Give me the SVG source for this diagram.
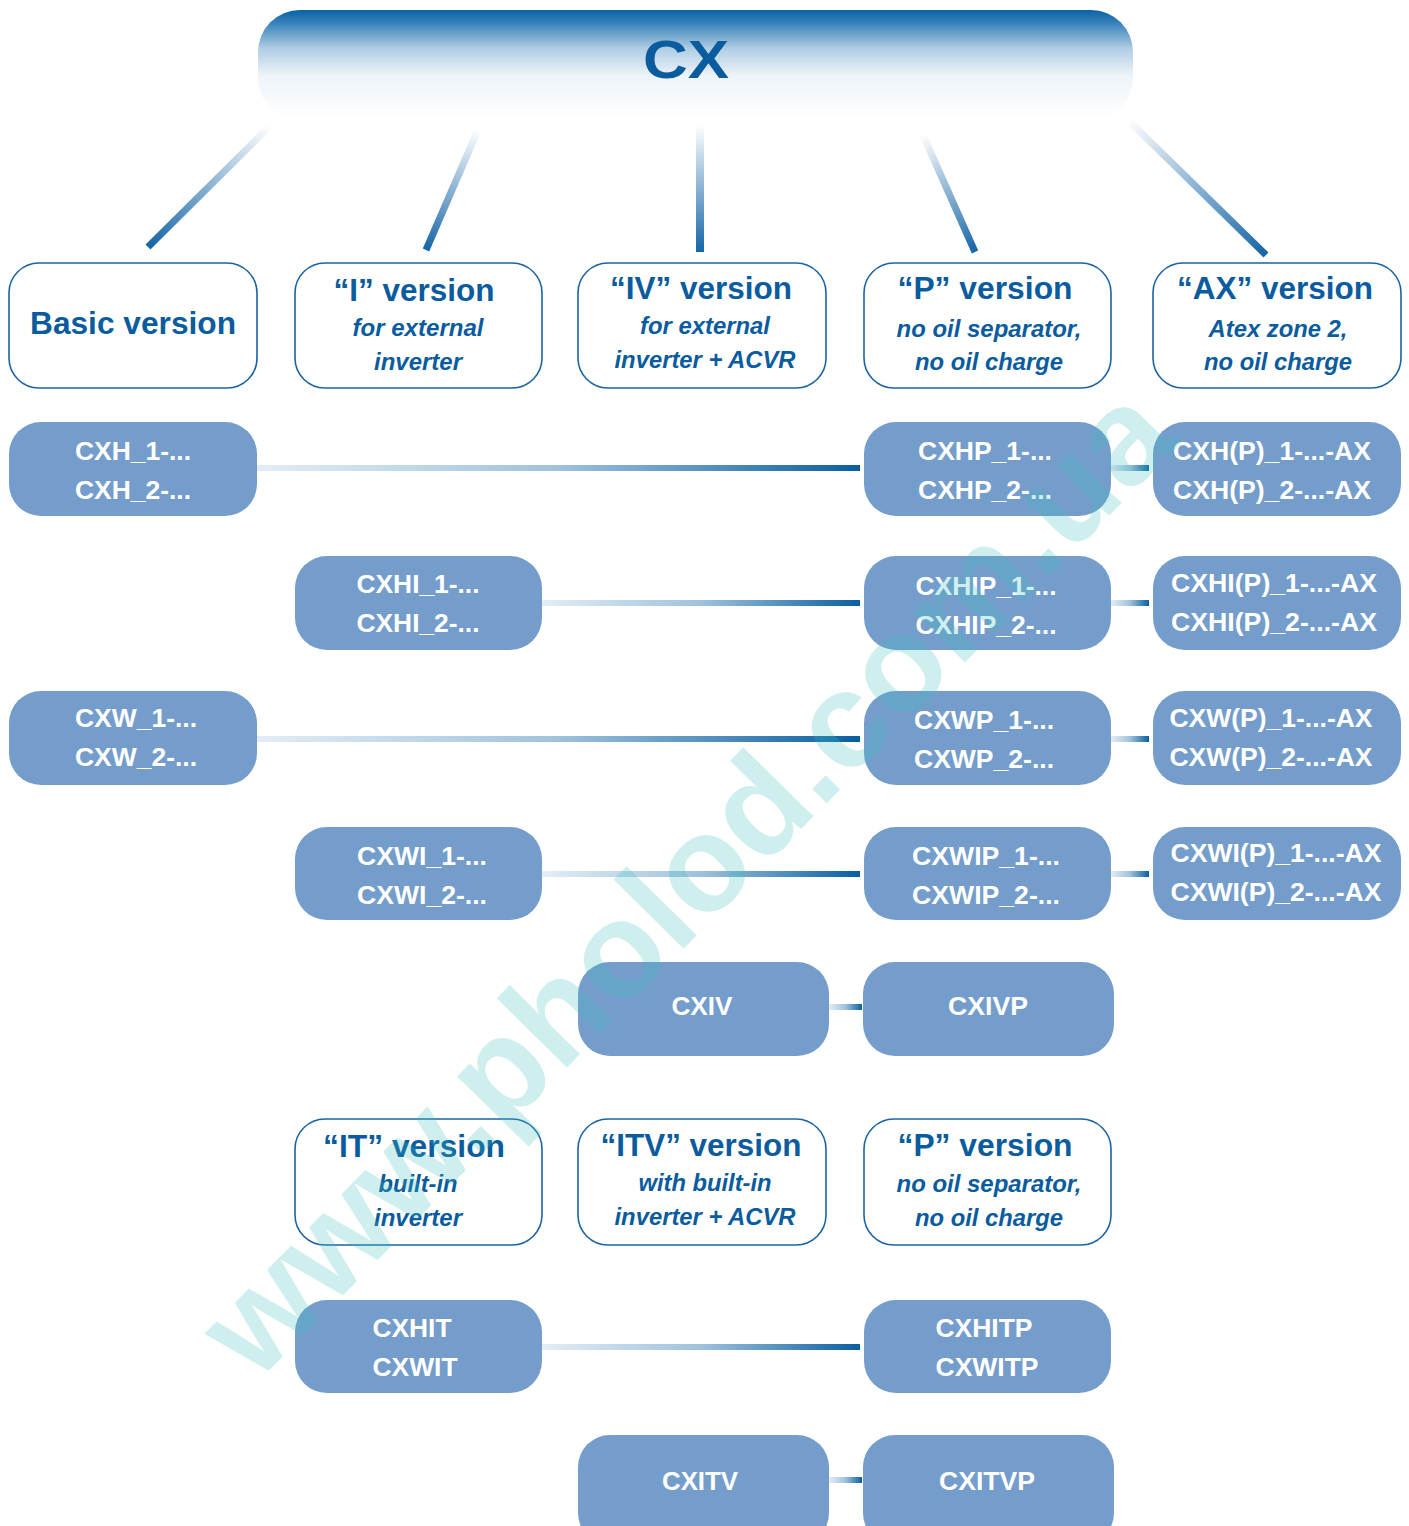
<svg xmlns="http://www.w3.org/2000/svg" width="1409" height="1526" viewBox="0 0 1409 1526">
<defs>
<linearGradient id="gBanner" x1="0" y1="0" x2="0" y2="1">
<stop offset="0" stop-color="#0a62a4"/>
<stop offset="0.1" stop-color="#2f7cb6"/>
<stop offset="0.35" stop-color="#b0cde3"/>
<stop offset="0.6" stop-color="#eef4fa"/>
<stop offset="1" stop-color="#ffffff"/>
</linearGradient>
<linearGradient id="gH" x1="0" y1="0" x2="1" y2="0">
<stop offset="0" stop-color="#e3edf6"/>
<stop offset="0.5" stop-color="#9fc2dc"/>
<stop offset="1" stop-color="#0a5fa0"/>
</linearGradient>
<linearGradient id="g1" gradientUnits="userSpaceOnUse" x1="270" y1="126" x2="148" y2="247"><stop offset="0" stop-color="#ffffff"/><stop offset="1" stop-color="#1565a6"/></linearGradient>
<linearGradient id="g2" gradientUnits="userSpaceOnUse" x1="478" y1="130" x2="426" y2="250"><stop offset="0" stop-color="#ffffff"/><stop offset="1" stop-color="#1565a6"/></linearGradient>
<linearGradient id="g3" gradientUnits="userSpaceOnUse" x1="700" y1="125" x2="700" y2="252"><stop offset="0" stop-color="#ffffff"/><stop offset="1" stop-color="#1565a6"/></linearGradient>
<linearGradient id="g4" gradientUnits="userSpaceOnUse" x1="923" y1="135" x2="975" y2="252"><stop offset="0" stop-color="#ffffff"/><stop offset="1" stop-color="#1565a6"/></linearGradient>
<linearGradient id="g5" gradientUnits="userSpaceOnUse" x1="1128" y1="120" x2="1266" y2="255"><stop offset="0" stop-color="#ffffff"/><stop offset="1" stop-color="#1565a6"/></linearGradient>
</defs>
<style>
.hdr{fill:#ffffff;stroke:#1a64a4;stroke-width:1.6}
.box{fill:#749dcb}
.t{font-family:"Liberation Sans",Arial,sans-serif;font-weight:bold;text-anchor:middle}
.ttl{fill:#0a5c9e;font-size:32px}
.sub{fill:#0a5c9e;font-size:23px;font-style:italic}
.bt{fill:#ffffff;font-size:26px}
.hc{fill:url(#gH)}
</style>
<rect width="1409" height="1526" fill="#ffffff"/>

<g id="root">
<rect x="258" y="10" width="875" height="110" rx="42" fill="url(#gBanner)"/>
<text class="t" x="686" y="78" fill="#0a5c9e" font-size="54" textLength="86" lengthAdjust="spacingAndGlyphs">CX</text>
</g>

<g id="connectors">
<line x1="270" y1="126" x2="148" y2="247" stroke="url(#g1)" stroke-width="7"/>
<line x1="478" y1="130" x2="426" y2="250" stroke="url(#g2)" stroke-width="7"/>
<line x1="700" y1="125" x2="700" y2="252" stroke="url(#g3)" stroke-width="8"/>
<line x1="923" y1="135" x2="975" y2="252" stroke="url(#g4)" stroke-width="7"/>
<line x1="1128" y1="120" x2="1266" y2="255" stroke="url(#g5)" stroke-width="7"/>
<rect class="hc" x="257" y="465" width="603" height="6"/>
<rect class="hc" x="1111" y="465" width="38" height="6"/>
<rect class="hc" x="542" y="600" width="318" height="6"/>
<rect class="hc" x="1111" y="600" width="38" height="6"/>
<rect class="hc" x="257" y="736" width="603" height="6"/>
<rect class="hc" x="1111" y="736" width="38" height="6"/>
<rect class="hc" x="542" y="871" width="318" height="6"/>
<rect class="hc" x="1111" y="871" width="38" height="6"/>
<rect class="hc" x="829" y="1004" width="33" height="6"/>
<rect class="hc" x="542" y="1344" width="318" height="6"/>
<rect class="hc" x="829" y="1477" width="33" height="6"/>
</g>

<g id="h-basic"><rect class="hdr" x="9" y="263" width="248" height="125" rx="30"/>
<text class="t ttl" x="133" y="334" textLength="206" lengthAdjust="spacingAndGlyphs">Basic version</text></g>
<g id="h-i"><rect class="hdr" x="295" y="263" width="247" height="125" rx="30"/>
<text class="t ttl" x="414" y="301" textLength="161" lengthAdjust="spacingAndGlyphs">“I” version</text>
<text class="t sub" x="418" y="336" textLength="131" lengthAdjust="spacingAndGlyphs">for external</text>
<text class="t sub" x="418" y="370" textLength="88" lengthAdjust="spacingAndGlyphs">inverter</text></g>
<g id="h-iv"><rect class="hdr" x="578" y="263" width="248" height="125" rx="30"/>
<text class="t ttl" x="701" y="299" textLength="182" lengthAdjust="spacingAndGlyphs">“IV” version</text>
<text class="t sub" x="705" y="334" textLength="130" lengthAdjust="spacingAndGlyphs">for external</text>
<text class="t sub" x="705" y="368" textLength="181" lengthAdjust="spacingAndGlyphs">inverter + ACVR</text></g>
<g id="h-p"><rect class="hdr" x="864" y="263" width="247" height="125" rx="30"/>
<text class="t ttl" x="985" y="299" textLength="175" lengthAdjust="spacingAndGlyphs">“P” version</text>
<text class="t sub" x="989" y="337" textLength="185" lengthAdjust="spacingAndGlyphs">no oil separator,</text>
<text class="t sub" x="989" y="370" textLength="148" lengthAdjust="spacingAndGlyphs">no oil charge</text></g>
<g id="h-ax"><rect class="hdr" x="1153" y="263" width="248" height="125" rx="30"/>
<text class="t ttl" x="1275" y="299" textLength="196" lengthAdjust="spacingAndGlyphs">“AX” version</text>
<text class="t sub" x="1278" y="337" textLength="139" lengthAdjust="spacingAndGlyphs">Atex zone 2,</text>
<text class="t sub" x="1278" y="370" textLength="148" lengthAdjust="spacingAndGlyphs">no oil charge</text></g>

<g id="n-cxh"><rect class="box" x="9" y="422" width="248" height="94" rx="32"/>
<text class="t bt" x="133" y="460" textLength="116" lengthAdjust="spacingAndGlyphs">CXH_1-...</text>
<text class="t bt" x="133" y="499" textLength="116" lengthAdjust="spacingAndGlyphs">CXH_2-...</text></g>
<g id="n-cxhp"><rect class="box" x="864" y="422" width="247" height="94" rx="32"/>
<text class="t bt" x="985" y="460" textLength="134" lengthAdjust="spacingAndGlyphs">CXHP_1-...</text>
<text class="t bt" x="985" y="499" textLength="134" lengthAdjust="spacingAndGlyphs">CXHP_2-...</text></g>
<g id="n-cxhax"><rect class="box" x="1153" y="422" width="248" height="94" rx="32"/>
<text class="t bt" x="1272" y="460" textLength="198" lengthAdjust="spacingAndGlyphs">CXH(P)_1-...-AX</text>
<text class="t bt" x="1272" y="499" textLength="198" lengthAdjust="spacingAndGlyphs">CXH(P)_2-...-AX</text></g>

<g id="n-cxhi"><rect class="box" x="295" y="556" width="247" height="94" rx="32"/>
<text class="t bt" x="418" y="593" textLength="123" lengthAdjust="spacingAndGlyphs">CXHI_1-...</text>
<text class="t bt" x="418" y="632" textLength="123" lengthAdjust="spacingAndGlyphs">CXHI_2-...</text></g>
<g id="n-cxhip"><rect class="box" x="864" y="556" width="247" height="94" rx="32"/>
<text class="t bt" x="986" y="595" textLength="141" lengthAdjust="spacingAndGlyphs">CXHIP_1-...</text>
<text class="t bt" x="986" y="634" textLength="141" lengthAdjust="spacingAndGlyphs">CXHIP_2-...</text></g>
<g id="n-cxhiax"><rect class="box" x="1153" y="556" width="248" height="94" rx="32"/>
<text class="t bt" x="1274" y="592" textLength="206" lengthAdjust="spacingAndGlyphs">CXHI(P)_1-...-AX</text>
<text class="t bt" x="1274" y="631" textLength="206" lengthAdjust="spacingAndGlyphs">CXHI(P)_2-...-AX</text></g>

<g id="n-cxw"><rect class="box" x="9" y="691" width="248" height="94" rx="32"/>
<text class="t bt" x="136" y="727" textLength="122" lengthAdjust="spacingAndGlyphs">CXW_1-...</text>
<text class="t bt" x="136" y="766" textLength="122" lengthAdjust="spacingAndGlyphs">CXW_2-...</text></g>
<g id="n-cxwp"><rect class="box" x="864" y="691" width="247" height="94" rx="32"/>
<text class="t bt" x="984" y="729" textLength="140" lengthAdjust="spacingAndGlyphs">CXWP_1-...</text>
<text class="t bt" x="984" y="768" textLength="140" lengthAdjust="spacingAndGlyphs">CXWP_2-...</text></g>
<g id="n-cxwax"><rect class="box" x="1153" y="691" width="248" height="94" rx="32"/>
<text class="t bt" x="1271" y="727" textLength="203" lengthAdjust="spacingAndGlyphs">CXW(P)_1-...-AX</text>
<text class="t bt" x="1271" y="766" textLength="203" lengthAdjust="spacingAndGlyphs">CXW(P)_2-...-AX</text></g>

<g id="n-cxwi"><rect class="box" x="295" y="827" width="247" height="93" rx="32"/>
<text class="t bt" x="422" y="865" textLength="130" lengthAdjust="spacingAndGlyphs">CXWI_1-...</text>
<text class="t bt" x="422" y="904" textLength="130" lengthAdjust="spacingAndGlyphs">CXWI_2-...</text></g>
<g id="n-cxwip"><rect class="box" x="864" y="827" width="247" height="93" rx="32"/>
<text class="t bt" x="986" y="865" textLength="148" lengthAdjust="spacingAndGlyphs">CXWIP_1-...</text>
<text class="t bt" x="986" y="904" textLength="148" lengthAdjust="spacingAndGlyphs">CXWIP_2-...</text></g>
<g id="n-cxwiax"><rect class="box" x="1153" y="827" width="248" height="93" rx="32"/>
<text class="t bt" x="1276" y="862" textLength="211" lengthAdjust="spacingAndGlyphs">CXWI(P)_1-...-AX</text>
<text class="t bt" x="1276" y="901" textLength="211" lengthAdjust="spacingAndGlyphs">CXWI(P)_2-...-AX</text></g>

<g id="n-cxiv"><rect class="box" x="578" y="962" width="251" height="94" rx="32"/>
<text class="t bt" x="702" y="1015" textLength="61" lengthAdjust="spacingAndGlyphs">CXIV</text></g>
<g id="n-cxivp"><rect class="box" x="863" y="962" width="251" height="94" rx="32"/>
<text class="t bt" x="988" y="1015" textLength="80" lengthAdjust="spacingAndGlyphs">CXIVP</text></g>

<g id="h-it"><rect class="hdr" x="295" y="1119" width="247" height="126" rx="30"/>
<text class="t ttl" x="414" y="1157" textLength="182" lengthAdjust="spacingAndGlyphs">“IT” version</text>
<text class="t sub" x="418" y="1192" textLength="79" lengthAdjust="spacingAndGlyphs">built-in</text>
<text class="t sub" x="418" y="1226" textLength="88" lengthAdjust="spacingAndGlyphs">inverter</text></g>
<g id="h-itv"><rect class="hdr" x="578" y="1119" width="248" height="126" rx="30"/>
<text class="t ttl" x="701" y="1156" textLength="201" lengthAdjust="spacingAndGlyphs">“ITV” version</text>
<text class="t sub" x="705" y="1191" textLength="133" lengthAdjust="spacingAndGlyphs">with built-in</text>
<text class="t sub" x="705" y="1225" textLength="181" lengthAdjust="spacingAndGlyphs">inverter + ACVR</text></g>
<g id="h-p2"><rect class="hdr" x="864" y="1119" width="247" height="126" rx="30"/>
<text class="t ttl" x="985" y="1156" textLength="175" lengthAdjust="spacingAndGlyphs">“P” version</text>
<text class="t sub" x="989" y="1192" textLength="185" lengthAdjust="spacingAndGlyphs">no oil separator,</text>
<text class="t sub" x="989" y="1226" textLength="148" lengthAdjust="spacingAndGlyphs">no oil charge</text></g>

<g id="n-cxhit"><rect class="box" x="295" y="1300" width="247" height="93" rx="32"/>
<text class="t bt" x="412" y="1337" textLength="79" lengthAdjust="spacingAndGlyphs">CXHIT</text>
<text class="t bt" x="415" y="1376" textLength="85" lengthAdjust="spacingAndGlyphs">CXWIT</text></g>
<g id="n-cxhitp"><rect class="box" x="864" y="1300" width="247" height="93" rx="32"/>
<text class="t bt" x="984" y="1337" textLength="97" lengthAdjust="spacingAndGlyphs">CXHITP</text>
<text class="t bt" x="987" y="1376" textLength="103" lengthAdjust="spacingAndGlyphs">CXWITP</text></g>

<g id="n-cxitv"><rect class="box" x="578" y="1435" width="251" height="110" rx="32"/>
<text class="t bt" x="700" y="1490" textLength="76" lengthAdjust="spacingAndGlyphs">CXITV</text></g>
<g id="n-cxitvp"><rect class="box" x="863" y="1435" width="251" height="110" rx="32"/>
<text class="t bt" x="987" y="1490" textLength="96" lengthAdjust="spacingAndGlyphs">CXITVP</text></g>

<g id="watermark" transform="translate(690,885) rotate(-45.5)">
<text class="t" x="0" y="40" font-size="136" fill="#40bfbf" fill-opacity="0.25" textLength="1320" lengthAdjust="spacingAndGlyphs">www.pholod.com.ua</text>
</g>
</svg>
